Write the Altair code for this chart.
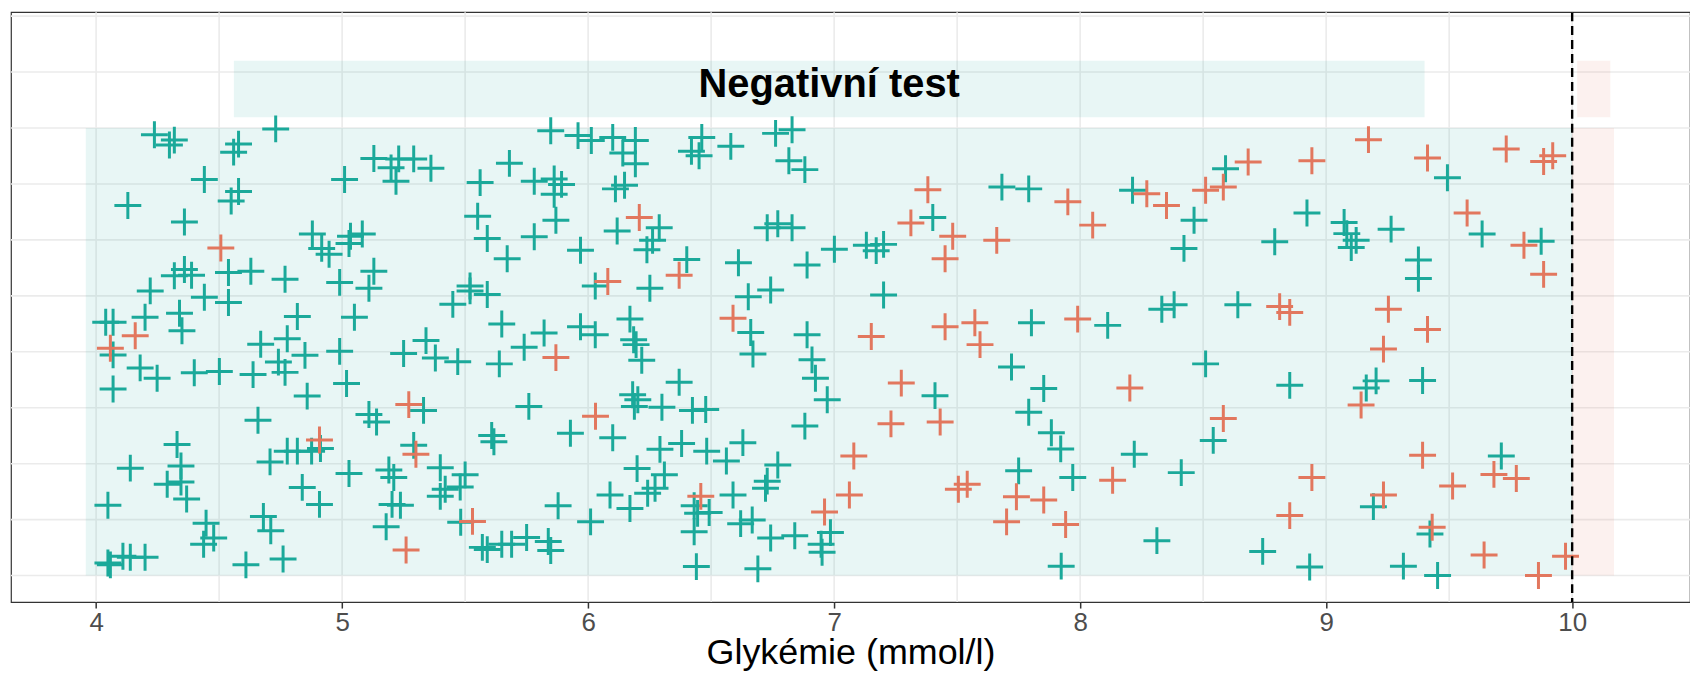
import altair as alt
import pandas as pd

# ---- data ----
teal_x = [4.237, 4.298, 4.318, 4.730, 4.579, 4.559, 4.440, 4.579, 4.549, 4.129, 4.359, 4.879, 4.220,
          4.318, 4.359, 4.388, 4.538, 4.629, 4.768, 4.440, 4.538, 4.199, 4.339, 4.349, 4.039, 4.069,
          4.069, 4.069, 4.179, 4.248, 4.399, 4.501, 4.638, 4.669, 4.777, 4.818, 4.849, 4.741, 4.768,
          4.858, 4.658, 4.329, 4.139, 4.345, 4.289, 4.345, 4.368, 4.048, 4.447, 4.478, 4.437, 4.680,
          4.710, 4.609, 4.760, 4.707, 4.777, 4.818, 4.876, 4.912, 4.838, 4.908, 4.048, 4.058, 4.109,
          4.139, 4.199,
          5.848, 5.129, 5.199, 5.230, 5.219, 5.291, 5.361, 5.010, 5.561, 5.680, 5.781, 5.862, 5.892,
          5.862, 5.869, 5.551, 5.590, 5.781, 5.671, 5.034, 5.082, 5.028, 4.947, 4.917, 4.990, 5.129,
          5.109, 5.050, 4.990, 5.018, 5.250, 5.341, 5.379, 5.470, 5.520, 5.520, 5.590, 5.450, 5.649,
          5.639, 5.740, 5.821, 5.331, 5.109, 5.140, 5.759, 5.608, 5.617, 5.928, 5.291, 5.028, 5.190,
          5.210, 5.399, 5.500, 5.480, 5.419, 5.399, 5.203, 5.237, 5.179, 5.482, 5.570, 5.590, 5.649,
          5.689, 5.750, 5.838, 5.848, 5.878,
          5.959, 6.013, 6.100, 6.141, 6.192, 6.192, 6.111, 6.148, 6.462, 6.420, 6.451, 6.580, 6.762,
          6.829, 6.816, 6.881, 6.118, 6.289, 6.262, 6.239, 5.969, 6.401, 6.029, 6.251, 6.611, 6.728,
          6.771, 6.829, 6.890, 6.651, 6.742, 6.661, 6.670, 6.890, 6.910, 6.924, 5.969, 6.029, 6.170,
          6.185, 6.195, 6.218, 6.370, 6.181, 6.202, 6.188, 6.300, 6.424, 6.478, 6.100, 6.881, 6.292,
          6.380, 6.482, 6.562, 6.629, 6.199, 6.310, 6.272, 6.242, 6.771, 6.728, 6.721, 6.089, 6.170,
          6.431, 6.445, 6.492, 6.431, 6.589, 6.620, 6.667, 6.742, 6.840, 6.010, 6.440, 6.690,
          7.401, 7.682, 7.791, 7.001, 7.131, 7.171, 7.201, 7.201, 7.802, 7.721, 7.852, 7.791, 7.883,
          7.921, 6.972, 7.410, 6.985, 6.947, 6.951, 7.750, 7.923,
          8.213, 8.463, 8.422, 8.591, 8.922, 8.791, 8.112, 8.332, 8.382, 8.641, 8.510, 8.852, 8.541,
          8.220, 8.411, 7.970, 8.312, 8.742, 8.933,
          9.493, 9.073, 9.084, 9.122, 9.102, 9.264, 9.634, 9.874, 9.375, 9.375, 9.203, 9.163, 9.392,
          9.712, 9.192, 9.422, 9.314, 9.453]
teal_y = [0.985, 0.962, 0.973, 0.998, 0.964, 0.946, 0.885, 0.858, 0.837, 0.827, 0.790, 0.763, 0.636,
          0.670, 0.684, 0.671, 0.677, 0.680, 0.662, 0.622, 0.610, 0.577, 0.586, 0.547, 0.566, 0.566,
          0.493, 0.417, 0.464, 0.441, 0.453, 0.456, 0.449, 0.517, 0.529, 0.579, 0.492, 0.477, 0.454,
          0.401, 0.347, 0.293, 0.240, 0.245, 0.204, 0.209, 0.171, 0.157, 0.117, 0.084, 0.070, 0.132,
          0.100, 0.024, 0.037, 0.254, 0.278, 0.278, 0.278, 0.284, 0.197, 0.159, 0.028, 0.024, 0.043,
          0.041, 0.041,
          0.994, 0.932, 0.911, 0.931, 0.881, 0.931, 0.910, 0.885, 0.878, 0.921, 0.881, 0.886, 0.874,
          0.852, 0.794, 0.803, 0.753, 0.757, 0.708, 0.758, 0.763, 0.742, 0.718, 0.731, 0.655, 0.680,
          0.642, 0.577, 0.501, 0.429, 0.496, 0.525, 0.486, 0.478, 0.647, 0.636, 0.628, 0.606, 0.562,
          0.473, 0.510, 0.542, 0.369, 0.360, 0.343, 0.378, 0.313, 0.299, 0.318, 0.291, 0.228, 0.236,
          0.219, 0.241, 0.225, 0.198, 0.193, 0.177, 0.159, 0.157, 0.109, 0.119, 0.063, 0.058, 0.070,
          0.070, 0.085, 0.076, 0.056, 0.156,
          0.983, 0.972, 0.979, 0.944, 0.972, 0.920, 0.864, 0.872, 0.979, 0.948, 0.938, 0.959, 0.988,
          0.996, 0.927, 0.907, 0.770, 0.777, 0.749, 0.728, 0.727, 0.706, 0.647, 0.642, 0.699, 0.777,
          0.786, 0.777, 0.694, 0.623, 0.638, 0.543, 0.495, 0.538, 0.482, 0.441, 0.556, 0.538, 0.573,
          0.527, 0.516, 0.481, 0.432, 0.404, 0.393, 0.378, 0.376, 0.369, 0.371, 0.308, 0.334, 0.282,
          0.295, 0.278, 0.256, 0.297, 0.239, 0.225, 0.195, 0.184, 0.247, 0.211, 0.195, 0.180, 0.150,
          0.156, 0.139, 0.141, 0.098, 0.180, 0.116, 0.124, 0.084, 0.089, 0.120, 0.020, 0.015,
          0.800, 0.868, 0.864, 0.729, 0.738, 0.726, 0.740, 0.627, 0.565, 0.466, 0.418, 0.365, 0.319,
          0.283, 0.393, 0.402, 0.096, 0.070, 0.052, 0.234, 0.021,
          0.861, 0.794, 0.731, 0.909, 0.810, 0.746, 0.559, 0.595, 0.605, 0.605, 0.473, 0.425, 0.302,
          0.271, 0.230, 0.219, 0.078, 0.054, 0.019,
          0.889, 0.789, 0.764, 0.749, 0.733, 0.774, 0.763, 0.747, 0.705, 0.664, 0.435, 0.419, 0.436,
          0.267, 0.154, 0.093, 0.021, 0.000]

red_x = [4.507, 4.159, 4.058, 4.908,
         5.869, 5.271, 5.300, 5.260, 5.530,
         6.208, 6.370, 6.080, 6.589, 6.030, 6.458,
         7.381, 7.312, 7.482, 7.451, 7.950, 7.661, 7.151, 7.451, 7.572, 7.593, 7.273, 7.231, 7.431,
         7.080, 7.062, 6.961, 7.505, 7.541, 7.741, 7.852, 7.701, 7.941,
         8.051, 8.271, 8.351, 8.510, 8.582, 8.683, 8.942, 7.990, 8.811, 8.852, 8.202, 8.582, 8.132,
         8.942, 8.852,
         9.172, 9.412, 9.732, 9.884, 9.921, 9.573, 9.804, 9.884, 9.253, 9.412, 9.233, 9.142, 9.392,
         9.682, 9.773, 9.514, 9.233, 9.431, 9.642, 9.863, 9.973]
red_y = [0.732, 0.536, 0.508, 0.303,
         0.487, 0.382, 0.271, 0.057, 0.121,
         0.800, 0.671, 0.657, 0.575, 0.356, 0.177,
         0.862, 0.788, 0.758, 0.708, 0.835, 0.749, 0.534, 0.556, 0.565, 0.516, 0.430, 0.339, 0.343,
         0.267, 0.180, 0.142, 0.193, 0.204, 0.176, 0.169, 0.120, 0.114,
         0.783, 0.853, 0.827, 0.861, 0.868, 0.924, 0.927, 0.573, 0.601, 0.588, 0.419, 0.351, 0.213,
         0.219, 0.134,
         0.974, 0.933, 0.953, 0.925, 0.938, 0.810, 0.738, 0.673, 0.595, 0.550, 0.506, 0.381, 0.269,
         0.226, 0.217, 0.200, 0.180, 0.108, 0.046, 0.000, 0.043]

# shaded regions (glycaemia ranges)
region_start = [3.958, 10.0]
region_end = [10.0, 10.17]
region_bottom = [0.0, 0.0]
region_top = [1.0, 1.0]
region_kind = ["negativní", "pozitivní"]

# label boxes above the regions
label_start = [4.56, 10.02]
label_end = [9.40, 10.155]
label_bottom = [1.024, 1.024]
label_top = [1.15, 1.15]
label_text_y = [1.097, 1.097]
label_text = ["Negativní test", ""]
label_kind = ["negativní", "pozitivní"]

threshold = [10.0]
x_ticks = [4, 5, 6, 7, 8, 9, 10]
x_grid = [4, 4.5, 5, 5.5, 6, 6.5, 7, 7.5, 8, 8.5, 9, 9.5, 10]
y_grid = [0, 0.125, 0.25, 0.375, 0.5, 0.625, 0.75, 0.875, 1.0, 1.125, 1.25]

TEAL = "#1BA99A"
RED = "#E2775E"

points = pd.DataFrame({
    "x": teal_x + red_x,
    "y": teal_y + red_y,
    "skupina": ["A"] * len(teal_x) + ["B"] * len(red_x),
})
regions = pd.DataFrame({"x": region_start, "x2": region_end, "y": region_bottom,
                        "y2": region_top, "kind": region_kind})
labels = pd.DataFrame({"x": label_start, "x2": label_end, "y": label_bottom,
                       "y2": label_top, "ty": label_text_y, "text": label_text,
                       "kind": label_kind})
labels["xm"] = (labels["x"] + labels["x2"]) / 2

xs = alt.Scale(domain=[3.654, 10.479], nice=False, zero=False)
ys = alt.Scale(domain=[-0.0592, 1.2588], nice=False, zero=False)
kind_scale = alt.Scale(domain=["negativní", "pozitivní"], range=[TEAL, RED])

FONT = "Liberation Sans"

xgrid = alt.Chart(pd.DataFrame({"x": x_grid})).mark_rule(
    color="#EBEBEB", strokeWidth=1.6
).encode(x=alt.X("x:Q", scale=xs, axis=alt.Axis(
    values=x_ticks, format="d", grid=False, domain=False, tickSize=6, tickColor="#333333",
    tickWidth=1.5, labelFontSize=26, labelColor="#4D4D4D", labelFont=FONT,
    labelPadding=2, title="Glykémie (mmol/l)", titleFont=FONT, titleFontSize=36,
    titleFontWeight="normal", titleColor="black", titleBaseline="alphabetic", titleY=62)))

ygrid = alt.Chart(pd.DataFrame({"y": y_grid})).mark_rule(
    color="#EBEBEB", strokeWidth=1.6
).encode(y=alt.Y("y:Q", scale=ys, axis=None))

rects = alt.Chart(regions).mark_rect(opacity=0.1).encode(
    x=alt.X("x:Q", scale=xs), x2="x2", y=alt.Y("y:Q", scale=ys), y2="y2",
    color=alt.Color("kind:N", scale=kind_scale, legend=None))

lrects = alt.Chart(labels).mark_rect(opacity=0.1).encode(
    x=alt.X("x:Q", scale=xs), x2="x2", y=alt.Y("y:Q", scale=ys), y2="y2",
    color=alt.Color("kind:N", scale=kind_scale, legend=None))

ltext = alt.Chart(labels).mark_text(
    font=FONT, fontSize=40, fontWeight="bold", color="black", baseline="middle", align="center"
).encode(x=alt.X("xm:Q", scale=xs), y=alt.Y("ty:Q", scale=ys), text="text:N")

pts = alt.Chart(points).mark_point(
    shape="M-1,0L1,0M0,-1L0,1", filled=False, size=729, strokeWidth=3, opacity=1
).encode(
    x=alt.X("x:Q", scale=xs), y=alt.Y("y:Q", scale=ys),
    color=alt.Color("skupina:N", scale=alt.Scale(domain=["A", "B"], range=[TEAL, RED]), legend=None))

vline = alt.Chart(pd.DataFrame({"x": threshold})).mark_rule(
    color="black", strokeWidth=2.4, strokeDash=[9, 5]
).encode(x=alt.X("x:Q", scale=xs))

chart = alt.layer(xgrid, ygrid, rects, lrects, ltext, pts, vline).properties(
    width=1685, height=592,
    autosize=alt.AutoSizeParams(type="none"),
    padding={"left": 3, "top": 3, "right": 0, "bottom": 70},
).configure_view(stroke="#333333", strokeWidth=1.2)

chart.save("out.html", embed_options={"renderer": "svg", "actions": False})
